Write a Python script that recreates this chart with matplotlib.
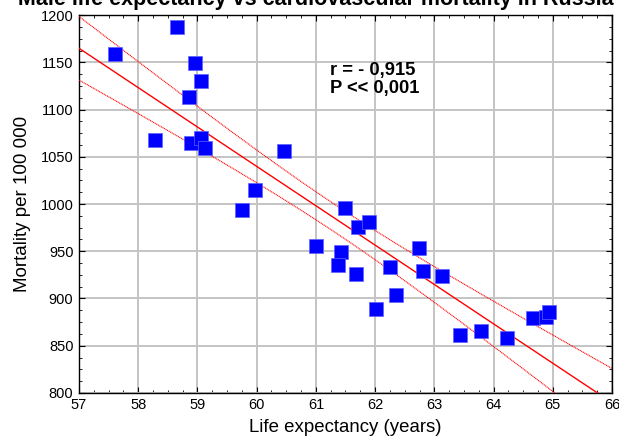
import numpy as np
import matplotlib.pyplot as plt
from matplotlib.ticker import MultipleLocator

# life expectancy (years) and cardiovascular mortality per 100 000
life_exp = [57.61, 58.66, 58.28, 58.96, 59.06, 58.86, 58.89, 59.06, 59.13, 60.46,
            59.97, 59.75, 61.01, 61.49, 61.71, 61.90, 61.42, 61.38, 61.68, 62.25,
            62.35, 62.02, 62.74, 62.81, 63.13, 63.44, 63.79, 64.23, 64.67, 64.89, 64.94]
mortality = [1159, 1187, 1068, 1149, 1130, 1113, 1065, 1070, 1059, 1056,
             1015, 994, 956, 996, 976, 981, 949, 935, 926, 933,
             904, 889, 953, 929, 924, 861, 866, 858, 879, 880, 886]

stat_lines = ["r = - 0,915", "P << 0,001"]

plt.rcParams["font.family"] = ["Liberation Sans", "DejaVu Sans"]

x = np.array(life_exp)
y = np.array(mortality)
n = len(x)
slope, icpt = np.polyfit(x, y, 1)
resid = y - (slope * x + icpt)
s = np.sqrt(np.sum(resid ** 2) / (n - 2))
sxx = np.sum((x - x.mean()) ** 2)
t95 = 2.045  # t(0.975, df=29)

xs = np.linspace(57, 66, 200)
fit = slope * xs + icpt
half = t95 * s * np.sqrt(1.0 / n + (xs - x.mean()) ** 2 / sxx)

fig = plt.figure(figsize=(6.19, 4.44), dpi=100)
ax = fig.add_axes([0.1276, 0.115, 0.8611, 0.851])

ax.plot(xs, fit, color="red", lw=1.0, zorder=3)
ax.plot(xs, fit + half, color="red", lw=0.8, ls=(0, (1, 0.6)), zorder=3)
ax.plot(xs, fit - half, color="red", lw=0.8, ls=(0, (1, 0.6)), zorder=3)
ax.scatter(x, y, marker="s", s=110, color="#0000ff", edgecolors="#6060ff",
           linewidths=0.5, zorder=4)

ax.set_xlim(57, 66)
ax.set_ylim(800, 1200)
ax.xaxis.set_major_locator(MultipleLocator(1))
ax.xaxis.set_minor_locator(MultipleLocator(0.25))
ax.yaxis.set_major_locator(MultipleLocator(50))
ax.yaxis.set_minor_locator(MultipleLocator(12.5))
ax.tick_params(which="both", direction="in", top=True, right=True,
               labelsize=10.5, pad=4)
ax.tick_params(which="major", length=4)
ax.tick_params(which="minor", length=2.5)
ax.grid(True, which="major", color="#c4c4c4", lw=1.4)
ax.set_axisbelow(True)
for sp in ax.spines.values():
    sp.set_linewidth(1.0)

ax.set_xlabel("Life expectancy (years)", fontsize=13.4, labelpad=5)
ax.set_ylabel("Mortality per 100 000", fontsize=13.5, labelpad=7)

ax.text(61.24, 1132, "\n".join(stat_lines), fontsize=13.2, fontweight="bold",
        va="center", ha="left", linespacing=1.05)

fig.text(0.511, 1.0 - 5 / 444, "Male life expectancy vs cardiovascular mortality in Russia",
         ha="center", va="baseline", fontsize=15.5, fontweight="bold")

fig.savefig("out.png", dpi=100)
